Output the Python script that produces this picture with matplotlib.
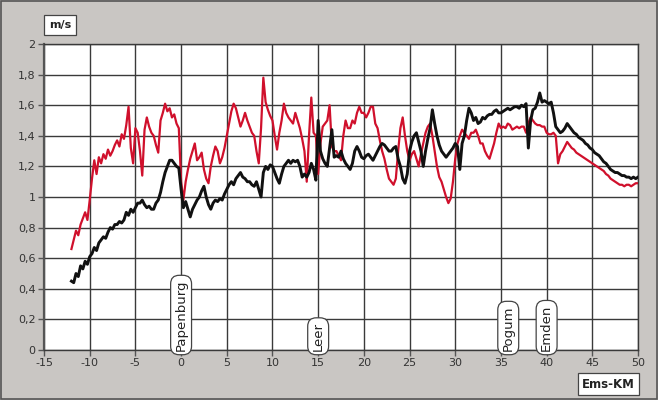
import numpy as np
import matplotlib
matplotlib.use("Agg")
import matplotlib.pyplot as plt
from matplotlib.ticker import FuncFormatter
from matplotlib.patches import Rectangle

plt.rcParams["axes.unicode_minus"] = False

# Ems-KM positions (0.25 km step)
km = np.arange(-12, 50.001, 0.25)

v_red = [
    0.66, 0.72, 0.78, 0.75, 0.82, 0.86, 0.90, 0.85, 0.98, 1.12, 1.24, 1.15, 1.26, 1.22, 1.28, 1.25, 1.31, 1.27, 1.30, 1.34,
    1.37, 1.33, 1.41, 1.38, 1.47, 1.59, 1.32, 1.22, 1.45, 1.42, 1.30, 1.14, 1.44, 1.52, 1.46, 1.42, 1.40, 1.34, 1.29, 1.50,
    1.55, 1.61, 1.56, 1.58, 1.52, 1.54, 1.48, 1.45, 1.10, 0.98, 1.10, 1.18, 1.25, 1.30, 1.35, 1.24, 1.26, 1.29, 1.18, 1.12,
    1.09, 1.20, 1.27, 1.33, 1.30, 1.22, 1.26, 1.32, 1.40, 1.48, 1.56, 1.61, 1.58, 1.52, 1.46, 1.50, 1.55, 1.50, 1.46, 1.42,
    1.40, 1.30, 1.22, 1.45, 1.78, 1.62, 1.57, 1.53, 1.50, 1.40, 1.31, 1.42, 1.50, 1.61, 1.55, 1.52, 1.50, 1.48, 1.55, 1.50,
    1.45, 1.38, 1.30, 1.10, 1.40, 1.65, 1.42, 1.40, 1.15, 1.35, 1.46, 1.48, 1.50, 1.60, 1.33, 1.30, 1.30, 1.27, 1.24, 1.40,
    1.50, 1.45, 1.45, 1.50, 1.48, 1.55, 1.59, 1.55, 1.55, 1.52, 1.55, 1.59, 1.59, 1.48, 1.45, 1.37, 1.30, 1.25, 1.18, 1.12,
    1.10, 1.08, 1.12, 1.30, 1.45, 1.52, 1.40, 1.30, 1.24, 1.28, 1.30, 1.25, 1.20, 1.28, 1.35, 1.42, 1.46, 1.48, 1.40, 1.30,
    1.20, 1.13, 1.10, 1.05, 1.00, 0.96, 0.99, 1.10, 1.25, 1.35, 1.40, 1.44, 1.42, 1.40, 1.38, 1.42, 1.42, 1.44, 1.40, 1.35,
    1.35, 1.30, 1.27, 1.25, 1.30, 1.35, 1.42, 1.48, 1.45, 1.46, 1.45, 1.48, 1.47, 1.44, 1.45, 1.46, 1.45, 1.46, 1.46, 1.42,
    1.48, 1.52, 1.50, 1.48, 1.47, 1.47, 1.46, 1.46, 1.42, 1.41, 1.41, 1.42, 1.40, 1.22, 1.28, 1.30, 1.33, 1.36, 1.34, 1.32,
    1.31, 1.29, 1.28, 1.27, 1.26, 1.25, 1.24, 1.23, 1.22, 1.21, 1.20, 1.19, 1.18, 1.17, 1.15, 1.14, 1.12, 1.11, 1.10, 1.09,
    1.08, 1.08, 1.07, 1.08, 1.08, 1.07, 1.08, 1.09, 1.09,
]

v_black = [
    0.45, 0.44, 0.50, 0.48, 0.55, 0.53, 0.58, 0.56, 0.61, 0.63, 0.67, 0.65, 0.70, 0.72, 0.74, 0.73, 0.77, 0.80, 0.79, 0.82,
    0.82, 0.84, 0.83, 0.85, 0.90, 0.88, 0.92, 0.90, 0.93, 0.96, 0.96, 0.98, 0.95, 0.93, 0.94, 0.92, 0.92, 0.96, 0.98, 1.03,
    1.10, 1.16, 1.20, 1.24, 1.24, 1.22, 1.20, 1.19, 1.05, 0.93, 0.97, 0.92, 0.87, 0.92, 0.95, 0.98, 1.00, 1.04, 1.07, 1.00,
    0.95, 0.92, 0.96, 0.98, 0.97, 0.99, 0.98, 1.02, 1.05, 1.08, 1.10, 1.08, 1.12, 1.14, 1.16, 1.13, 1.12, 1.10, 1.10, 1.08,
    1.07, 1.10, 1.05, 1.00, 1.16, 1.20, 1.18, 1.21, 1.20, 1.16, 1.12, 1.09, 1.15, 1.20, 1.22, 1.24, 1.22, 1.24, 1.23, 1.24,
    1.20, 1.13, 1.15, 1.13, 1.16, 1.22, 1.18, 1.11, 1.50, 1.30, 1.25, 1.22, 1.20, 1.32, 1.44, 1.26, 1.27, 1.26, 1.30, 1.25,
    1.22, 1.20, 1.18, 1.22, 1.30, 1.33, 1.30, 1.26, 1.25, 1.27, 1.28, 1.26, 1.24, 1.27, 1.30, 1.33, 1.35, 1.34, 1.32, 1.30,
    1.30, 1.32, 1.33, 1.25, 1.20, 1.12, 1.09, 1.15, 1.30, 1.36, 1.40, 1.42, 1.36, 1.30, 1.20, 1.30, 1.38, 1.45, 1.57, 1.48,
    1.40, 1.34, 1.30, 1.28, 1.26, 1.28, 1.30, 1.32, 1.35, 1.33, 1.18, 1.35, 1.40, 1.50, 1.58, 1.55, 1.50, 1.52, 1.48, 1.49,
    1.52, 1.51, 1.53, 1.54, 1.54, 1.56, 1.57, 1.55, 1.55, 1.56, 1.57, 1.58, 1.57, 1.58, 1.59, 1.59, 1.58, 1.60, 1.59, 1.61,
    1.32, 1.50, 1.57, 1.58, 1.62, 1.68, 1.62, 1.63, 1.62, 1.61, 1.62, 1.55, 1.46, 1.44, 1.42, 1.43, 1.45, 1.48, 1.46, 1.44,
    1.42, 1.41, 1.39, 1.38, 1.37, 1.35, 1.34, 1.32, 1.31, 1.29, 1.28, 1.27, 1.25, 1.23, 1.22, 1.20, 1.18, 1.17, 1.16, 1.16,
    1.15, 1.14, 1.14, 1.13, 1.13, 1.12, 1.13, 1.12, 1.13,
]

places = ["Papenburg", "Leer", "Pogum", "Emden"]
place_km = [0, 15, 35.8, 40]

x_ticks = list(range(-15, 51, 5))
y_ticks = [0, 0.2, 0.4, 0.6, 0.8, 1.0, 1.2, 1.4, 1.6, 1.8, 2.0]

bg = "#c9c6c3"
fig = plt.figure(figsize=(6.58, 4.0), dpi=100, facecolor=bg)
ax = fig.add_axes([0.0669, 0.125, 0.9027, 0.765])
ax.set_facecolor("white")

ax.plot(km, v_red, color="#d0102c", lw=1.6, zorder=3)
ax.plot(km, v_black, color="#111111", lw=2.1, zorder=4)

ax.set_xlim(-15, 50)
ax.set_ylim(0, 2)
ax.set_xticks(x_ticks)
ax.set_yticks(y_ticks)
ax.yaxis.set_major_formatter(FuncFormatter(lambda v, p: f"{v:g}".replace(".", ",")))
ax.grid(True, color="#3a3a3a", lw=1.0)
ax.set_axisbelow(True)
for s in ax.spines.values():
    s.set_color("#3a3a3a")
    s.set_linewidth(1.0)
ax.spines["left"].set_color("#555555")
ax.spines["left"].set_linewidth(1.6)
ax.tick_params(direction="out", length=4, width=1, color="#555555",
               labelsize=8, labelcolor="#333333", pad=2)

for name, xk in zip(places, place_km):
    ax.text(xk, -0.005, name, rotation=90, ha="center", va="bottom",
            fontsize=9.5, color="#222222", zorder=6,
            bbox=dict(boxstyle="round,pad=0.3,rounding_size=0.65",
                      fc="white", ec="#444444", lw=0.9))

fig.text(0.091, 0.938, "m/s", ha="center", va="center", fontsize=8,
         fontweight="bold", color="#222222",
         bbox=dict(boxstyle="square,pad=0.45", fc="white", ec="#444444", lw=0.9))
fig.text(0.925, 0.04, "Ems-KM", ha="center", va="center", fontsize=8.5,
         fontweight="bold", color="#222222",
         bbox=dict(boxstyle="square,pad=0.35", fc="white", ec="#444444", lw=0.9))

fig.patches.append(Rectangle((0.002, 0.003), 0.996, 0.994, transform=fig.transFigure,
                             fill=False, ec="#555555", lw=1.2))

fig.savefig("out.png", dpi=100, facecolor=bg)
